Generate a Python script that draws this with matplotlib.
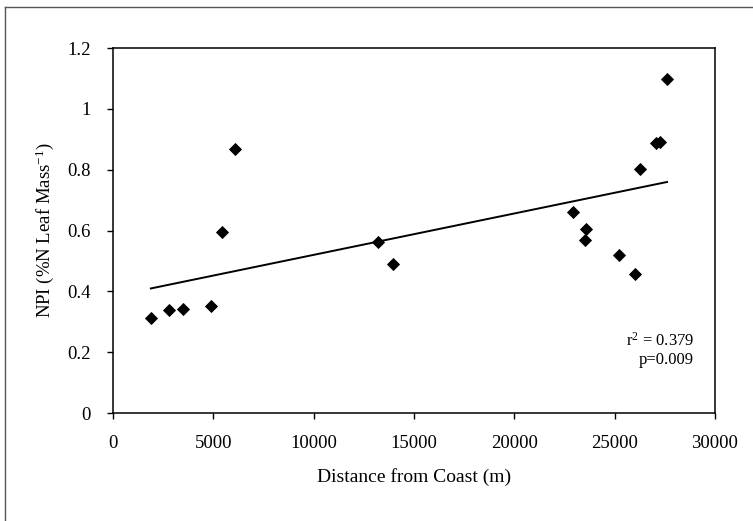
import matplotlib.pyplot as plt
from matplotlib.lines import Line2D

# Data
distance = [1890, 2800, 3470, 4880, 5430, 6080, 13230, 13970, 22920,
            23560, 23520, 25240, 26030, 26270, 27060, 27270, 27610]
npi = [0.314, 0.340, 0.342, 0.352, 0.595, 0.869, 0.563, 0.490, 0.660,
       0.604, 0.569, 0.521, 0.456, 0.803, 0.888, 0.893, 1.100]

# Trend line end points
trend_x = [1890, 27610]
trend_y = [0.410, 0.760]

x_ticks = [0, 5000, 10000, 15000, 20000, 25000, 30000]
y_ticks = [0, 0.2, 0.4, 0.6, 0.8, 1.0, 1.2]
y_labels = ['0', '0.2', '0.4', '0.6', '0.8', '1', '1.2']

plt.rcParams['font.family'] = ['Liberation Serif', 'DejaVu Serif']
plt.rcParams['mathtext.fontset'] = 'custom'
plt.rcParams['mathtext.rm'] = 'Liberation Serif'
plt.rcParams['mathtext.it'] = 'Liberation Serif:italic'
plt.rcParams['mathtext.default'] = 'rm'

fig = plt.figure(figsize=(7.53, 5.21), dpi=100)
ax = fig.add_axes([0.150, 0.207, 0.7995, 0.7006])

ax.plot(trend_x, trend_y, color='black', linewidth=1.4)
ax.plot(distance, npi, linestyle='none', marker='D', markersize=5.8,
        markeredgewidth=0.6, color='black')

ax.set_xlim(0, 30000)
ax.set_ylim(0, 1.2)
ax.set_xticks(x_ticks)
ax.set_yticks(y_ticks)
ax.set_yticklabels(y_labels)
ax.tick_params(direction='out', length=4, width=1, labelsize=13.5, pad=12)

for side in ['left', 'right', 'top', 'bottom']:
    ax.spines[side].set_linewidth(1.1)
    ax.spines[side].set_color('black')

ax.set_xlabel('Distance from Coast (m)', fontsize=14, labelpad=11)
ax.set_ylabel('NPI (%N Leaf Mass$^{-1}$)', fontsize=13.5, labelpad=8)

ax.text(0.965, 0.173, 'r$^2$ = 0.379\np=0.009', transform=ax.transAxes,
        ha='right', va='center', fontsize=12, linespacing=1.15)

# Border of the scanned frame (top and left only)
fig.add_artist(Line2D([0.007, 1.0], [0.987, 0.987], color='#555555',
                      linewidth=1, transform=fig.transFigure))
fig.add_artist(Line2D([0.007, 0.007], [0.0, 0.987], color='#555555',
                      linewidth=1, transform=fig.transFigure))

plt.savefig('out.png', dpi=100)
